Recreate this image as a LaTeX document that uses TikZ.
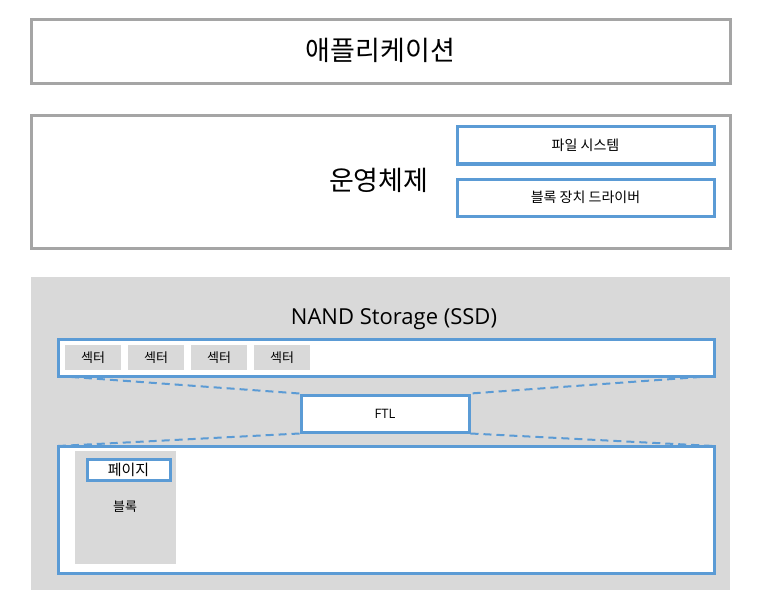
\documentclass[tikz,border=0pt]{standalone}
\usepackage{fontspec}
\setmainfont{Open Sans}
\newfontfamily\kr{Noto Sans CJK KR}
\definecolor{grayb}{HTML}{A5A5A5}
\definecolor{blueb}{HTML}{5B9BD5}
\definecolor{bgg}{HTML}{D9D9D9}
\tikzset{
  graybox/.style={draw=grayb, line width=3pt, fill=white, rectangle, inner sep=0pt},
  bluebox/.style={draw=blueb, line width=3pt, fill=white, rectangle, inner sep=0pt},
  cell/.style={fill=bgg, rectangle, inner sep=0pt, minimum width=56pt, minimum height=25pt, font=\kr\fontsize{13}{15}\selectfont},
  dashline/.style={draw=blueb, line width=2pt, dash pattern=on 8pt off 5pt},
}
\begin{document}
\begin{tikzpicture}[x=1pt,y=-1pt]
\useasboundingbox (0,0) rectangle (771,607);
% application
\node[graybox, minimum width=699pt, minimum height=64pt] (app) at (380.5,52) {};
\node[font=\kr\fontsize{27}{31}\selectfont] (apptxt) at (380.5,50) {애플리케이션};
% OS
\node[graybox, minimum width=699pt, minimum height=132pt] (os) at (380.5,182) {};
\node[font=\kr\fontsize{27}{31}\selectfont, anchor=east] (ostxt) at (432,180) {운영체제};
\node[bluebox, minimum width=257pt, minimum height=37pt, font=\kr\fontsize{14}{16}\selectfont] (fs) at (585.5,145.5) {파일 시스템};
\node[bluebox, minimum width=257pt, minimum height=37pt, font=\kr\fontsize{14}{16}\selectfont] (bd) at (585.5,197.5) {블록 장치 드라이버};
% NAND storage
\node[fill=bgg, rectangle, inner sep=0pt, minimum width=699pt, minimum height=313pt] (nand) at (380.5,433.5) {};
\node[font=\fontsize{22}{26}\selectfont] (nandtxt) at (394,319) {NAND Storage (SSD)};
% dashed connectors (behind the boxes)
\coordinate (secsw) at (58,376);
\coordinate (secse) at (714,376);
\coordinate (blknw) at (58,446);
\coordinate (blkne) at (714,446);
\node[bluebox, minimum width=168pt, minimum height=37pt, font=\fontsize{13}{15}\selectfont] (ftl) at (385,413.5) {FTL};
\draw[dashline] (secsw) -- (ftl.north west);
\draw[dashline] (secse) -- (ftl.north east);
\draw[dashline] (ftl.south west) -- (blknw);
\draw[dashline] (ftl.south east) -- (blkne);
\node[bluebox, minimum width=656pt, minimum height=37pt] (sec) at (386,357.5) {};
\node[cell] (s1) at (93,357.5) {섹터};
\node[cell] (s2) at (156,357.5) {섹터};
\node[cell] (s3) at (219,357.5) {섹터};
\node[cell] (s4) at (282,357.5) {섹터};
\node[bluebox, minimum width=656pt, minimum height=127pt] (blk) at (386,509.5) {};
\node[fill=bgg, rectangle, inner sep=0pt, minimum width=101pt, minimum height=113pt] (bcell) at (125.5,507.5) {};
\node[bluebox, minimum width=83pt, minimum height=21pt, font=\kr\fontsize{15}{17}\selectfont] (page) at (128.5,469.5) {페이지};
\node[font=\kr\fontsize{13}{15}\selectfont] (bltxt) at (125,507) {블록};
\end{tikzpicture}
\end{document}
